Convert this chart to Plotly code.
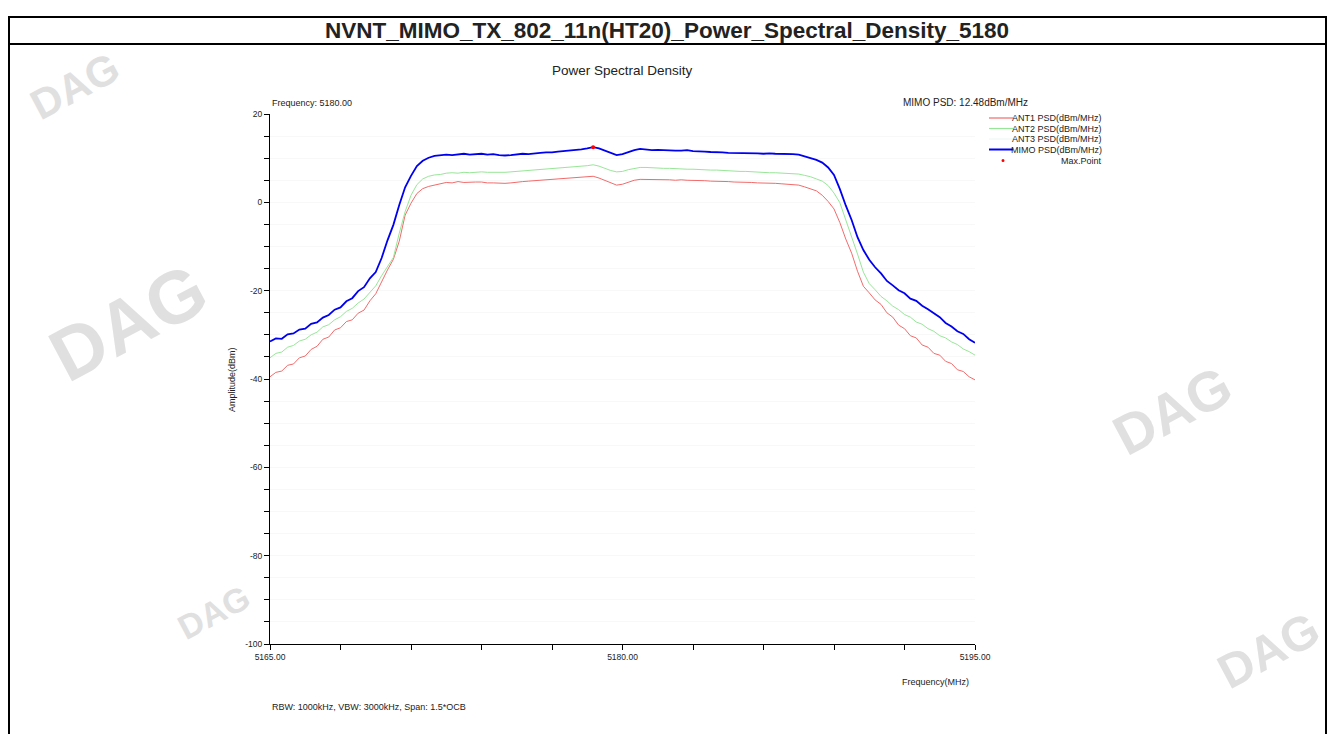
import plotly.graph_objects as go

# ---------------- data ----------------
freq_mhz = [
    5165.00, 5165.25, 5165.50, 5165.75, 5166.00, 5166.25, 5166.50, 5166.75, 5167.00, 5167.25,
    5167.50, 5167.75, 5168.00, 5168.25, 5168.50, 5168.75, 5169.00, 5169.25, 5169.50, 5169.75,
    5170.00, 5170.25, 5170.50, 5170.75, 5171.00, 5171.25, 5171.50, 5171.75, 5172.00, 5172.25,
    5172.50, 5172.75, 5173.00, 5173.25, 5173.50, 5173.75, 5174.00, 5174.25, 5174.50, 5174.75,
    5175.00, 5175.25, 5175.50, 5175.75, 5176.00, 5176.25, 5176.50, 5176.75, 5177.00, 5177.25,
    5177.50, 5177.75, 5178.00, 5178.25, 5178.50, 5178.75, 5179.00, 5179.25, 5179.50, 5179.75,
    5180.00, 5180.25, 5180.50, 5180.75, 5181.00, 5181.25, 5181.50, 5181.75, 5182.00, 5182.25,
    5182.50, 5182.75, 5183.00, 5183.25, 5183.50, 5183.75, 5184.00, 5184.25, 5184.50, 5184.75,
    5185.00, 5185.25, 5185.50, 5185.75, 5186.00, 5186.25, 5186.50, 5186.75, 5187.00, 5187.25,
    5187.50, 5187.75, 5188.00, 5188.25, 5188.50, 5188.75, 5189.00, 5189.25, 5189.50, 5189.75,
    5190.00, 5190.25, 5190.50, 5190.75, 5191.00, 5191.25, 5191.50, 5191.75, 5192.00, 5192.25,
    5192.50, 5192.75, 5193.00, 5193.25, 5193.50, 5193.75, 5194.00, 5194.25, 5194.50, 5194.75,
    5195.00,
]

ant1_psd = [
    -39.5, -38.5, -38.2, -36.9, -36.6, -35.2, -34.8, -33.3, -32.6, -31.0,
    -30.5, -28.9, -28.4, -27.0, -26.6, -25.1, -24.4, -22.3, -20.7, -17.8,
    -15.3, -12.9, -8.8, -2.9, -0.2, 2.0, 3.1, 3.6, 3.9, 4.2,
    4.5, 4.4, 4.7, 4.5, 4.6, 4.6, 4.6, 4.4, 4.4, 4.3,
    4.3, 4.4, 4.6, 4.7, 4.8, 4.9, 5.0, 5.1, 5.2, 5.3,
    5.4, 5.5, 5.5, 5.6, 5.7, 5.9, 5.5, 5.0, 4.4, 3.9,
    4.1, 4.6, 5.0, 5.2, 5.2, 5.1, 5.2, 5.1, 5.1, 5.0,
    5.1, 5.0, 5.0, 4.9, 4.9, 4.8, 4.8, 4.7, 4.7, 4.6,
    4.6, 4.5, 4.5, 4.4, 4.4, 4.3, 4.3, 4.2, 4.1, 4.0,
    3.9, 3.5, 3.1, 2.6, 1.6, 0.2, -1.5, -4.6, -8.3, -11.5,
    -15.6, -19.0, -20.5, -22.1, -23.1, -25.0, -26.0, -27.8, -28.6, -30.2,
    -30.7, -32.3, -32.8, -34.2, -34.6, -36.0, -36.5, -37.9, -38.3, -39.5,
    -40.2,
]

ant2_psd = [
    -35.2, -34.2, -33.9, -32.8, -32.4, -31.4, -31.0, -30.0, -29.4, -28.2,
    -27.7, -26.6, -25.9, -24.7, -24.0, -22.8, -21.9, -20.3, -18.9, -16.6,
    -14.4, -12.5, -7.0, -2.1, 1.6, 4.0, 5.3, 5.9, 6.2, 6.3,
    6.6, 6.7, 6.6, 6.8, 6.7, 6.8, 6.9, 6.8, 6.8, 6.7,
    6.8, 6.9, 7.0, 7.1, 7.2, 7.3, 7.4, 7.5, 7.6, 7.8,
    7.9, 8.0, 8.1, 8.2, 8.3, 8.5, 8.2, 7.7, 7.2, 6.9,
    7.0, 7.4, 7.7, 7.9, 7.9, 7.8, 7.8, 7.7, 7.7, 7.6,
    7.6, 7.5, 7.5, 7.4, 7.4, 7.3, 7.3, 7.2, 7.2, 7.1,
    7.0, 7.0, 6.9, 6.9, 6.8, 6.7, 6.7, 6.6, 6.6, 6.5,
    6.4, 6.1, 5.8, 5.3, 4.8, 3.8, 2.1, -0.1, -3.8, -7.8,
    -11.7, -15.8, -18.4, -19.8, -21.3, -22.3, -23.5, -24.3, -25.4, -26.0,
    -27.1, -27.6, -28.6, -29.2, -30.2, -30.7, -31.6, -32.2, -33.2, -33.8,
    -34.6,
]

mimo_psd = [
    -31.5, -30.8, -30.9, -29.9, -29.7, -28.8, -28.6, -27.5, -27.2, -26.1,
    -25.5, -24.3, -23.8, -22.4, -21.7, -20.1, -19.2, -17.2, -15.8, -12.6,
    -8.6, -5.1, -0.6, 3.4, 6.0, 8.2, 9.4, 10.1, 10.5, 10.6,
    10.8, 10.7, 10.9, 11.0, 10.8, 10.9, 11.0, 10.8, 10.9, 10.7,
    10.6, 10.7, 10.8, 11.0, 10.9, 11.1, 11.2, 11.3, 11.3, 11.5,
    11.6, 11.7, 11.9, 12.0, 12.2, 12.48, 12.2, 11.7, 11.1, 10.7,
    10.9, 11.4, 11.8, 12.1, 12.0, 11.8, 11.9, 11.8, 11.8, 11.7,
    11.7, 11.8, 11.6, 11.6, 11.5, 11.4, 11.4, 11.3, 11.2, 11.2,
    11.1, 11.2, 11.1, 11.1, 11.0, 11.1, 11.0, 11.0, 10.9, 10.9,
    10.8, 10.4, 10.0, 9.6, 9.0, 7.9, 6.2, 3.0, -0.7, -4.0,
    -7.9, -10.8, -13.0, -14.7, -16.1, -17.8, -18.8, -19.9, -20.6, -21.8,
    -22.3, -23.4, -24.2, -25.2, -26.0, -27.3, -28.1, -29.2, -29.8, -31.0,
    -31.8,
]

series_names = ["ANT1 PSD(dBm/MHz)", "ANT2 PSD(dBm/MHz)", "ANT3 PSD(dBm/MHz)", "MIMO PSD(dBm/MHz)"]

x_tick_values = [5165, 5168, 5171, 5174, 5177, 5180, 5183, 5186, 5189, 5192, 5195]
x_tick_labels = ["5165.00", "", "", "", "", "5180.00", "", "", "", "", "5195.00"]
y_tick_values = list(range(-100, 21, 5))
y_tick_labels = [str(v) if v % 20 == 0 else "" for v in y_tick_values]

# ---------------- style ----------------
FONT = "Liberation Sans, Arial, sans-serif"
TXT = "#222222"
C_ANT1 = "#f26b6b"
C_ANT2 = "#98e698"
C_ANT3 = "#eef9f4"
C_MIMO = "#0000f0"

OFF = 8  # page body margin in the browser
W, H = 1335 - OFF, 734 - OFF
L, R, T, B = 270, 975, 114, 644  # plot area in page pixels


def px(xp):
    return (xp - L) / (R - L)


def py(yp):
    return (B - yp) / (B - T)


# max point
imax = max(range(len(mimo_psd)), key=lambda i: mimo_psd[i])
max_f, max_v = freq_mhz[imax], mimo_psd[imax]

fig = go.Figure()
fig.add_trace(go.Scatter(x=freq_mhz, y=ant1_psd, mode="lines", name=series_names[0],
                         line=dict(color=C_ANT1, width=1)))
fig.add_trace(go.Scatter(x=freq_mhz, y=ant2_psd, mode="lines", name=series_names[1],
                         line=dict(color=C_ANT2, width=1)))
fig.add_trace(go.Scatter(x=freq_mhz, y=mimo_psd, mode="lines", name=series_names[3],
                         line=dict(color=C_MIMO, width=1.8)))
fig.add_trace(go.Scatter(x=[max_f], y=[max_v], mode="markers", name="Max.Point",
                         marker=dict(color="#ff0000", size=4)))

fig.update_layout(
    width=W, height=H,
    margin=dict(l=L - OFF, r=W - (R - OFF), t=T - OFF, b=H - (B - OFF), pad=0),
    paper_bgcolor="white", plot_bgcolor="white",
    showlegend=False,
    font=dict(family=FONT, size=9, color=TXT),
)
fig.update_xaxes(range=[5165, 5195], showline=True, linecolor="black", linewidth=1,
                 ticks="outside", ticklen=5, tickcolor="black", tickvals=x_tick_values,
                 ticktext=x_tick_labels, showgrid=False, zeroline=False,
                 tickfont=dict(family=FONT, size=8.5, color=TXT))
fig.update_yaxes(range=[-100, 20], showline=True, linecolor="black", linewidth=1,
                 ticks="outside", ticklen=5, tickcolor="black", tickvals=y_tick_values,
                 ticktext=y_tick_labels, showgrid=True, gridcolor="#f8f8f8", zeroline=False,
                 tickfont=dict(family=FONT, size=8.5, color=TXT))

ann = []


def text(x, y, s, size=9, xanchor="center", angle=0, color=TXT, family=FONT):
    ann.append(dict(xref="paper", yref="paper", x=px(x), y=py(y), text=s, showarrow=False,
                    xanchor=xanchor, yanchor="middle", textangle=angle,
                    font=dict(family=family, size=size, color=color)))


# watermarks
WM = "#e0e0e0"
for (wx, wy, ws) in [(74, 86, 42), (128, 322, 74), (1172, 410, 56), (1268, 650, 48),
                     (214, 612, 34)]:
    text(wx, wy, "<b>DAG</b>", size=ws, angle=-28, color=WM)

text(667, 31, "<b>NVNT_MIMO_TX_802_11n(HT20)_Power_Spectral_Density_5180</b>", size=22.5)
text(622, 70, "Power Spectral Density", size=13.5)
text(270, 103, "Frequency: 5180.00", xanchor="left")
text(1030, 103, f"MIMO PSD: {max_v:.2f}dBm/MHz", xanchor="right", size=10)
legend_rows = [(series_names[0], C_ANT1, 118), (series_names[1], C_ANT2, 128.5),
               (series_names[2], C_ANT3, 139), (series_names[3], C_MIMO, 149.5),
               ("Max.Point", None, 160.5)]
shapes = []
for name, col, yy in legend_rows:
    text(1104, yy, name, xanchor="right")
    if col is not None:
        shapes.append(dict(type="line", xref="paper", yref="paper", x0=px(989), x1=px(1013),
                           y0=py(yy), y1=py(yy),
                           line=dict(color=col, width=2 if col == C_MIMO else 1.2)))
    else:
        shapes.append(dict(type="circle", xref="paper", yref="paper", x0=px(1001.5), x1=px(1004.5),
                           y0=py(yy + 1.5), y1=py(yy - 1.5), fillcolor="#ff0000",
                           line=dict(color="#ff0000", width=0)))
text(232, 380, "Amplitude(dBm)", angle=-90)
text(971, 682, "Frequency(MHz)", xanchor="right")
text(270, 707, "RBW: 1000kHz, VBW: 3000kHz, Span: 1.5*OCB", xanchor="left")

# page frame
frame = dict(color="black", width=2)
xl, xr = OFF + 1, 1326
shapes += [
    dict(type="line", xref="paper", yref="paper", x0=px(xl), x1=px(xr), y0=py(17), y1=py(17), line=frame),
    dict(type="line", xref="paper", yref="paper", x0=px(xl), x1=px(xr), y0=py(44), y1=py(44), line=frame),
    dict(type="line", xref="paper", yref="paper", x0=px(xl), x1=px(xl), y0=py(16), y1=py(740), line=frame),
    dict(type="line", xref="paper", yref="paper", x0=px(xr), x1=px(xr), y0=py(16), y1=py(740), line=frame),
]

fig.update_layout(annotations=ann, shapes=shapes)
fig.write_html("out.html")
